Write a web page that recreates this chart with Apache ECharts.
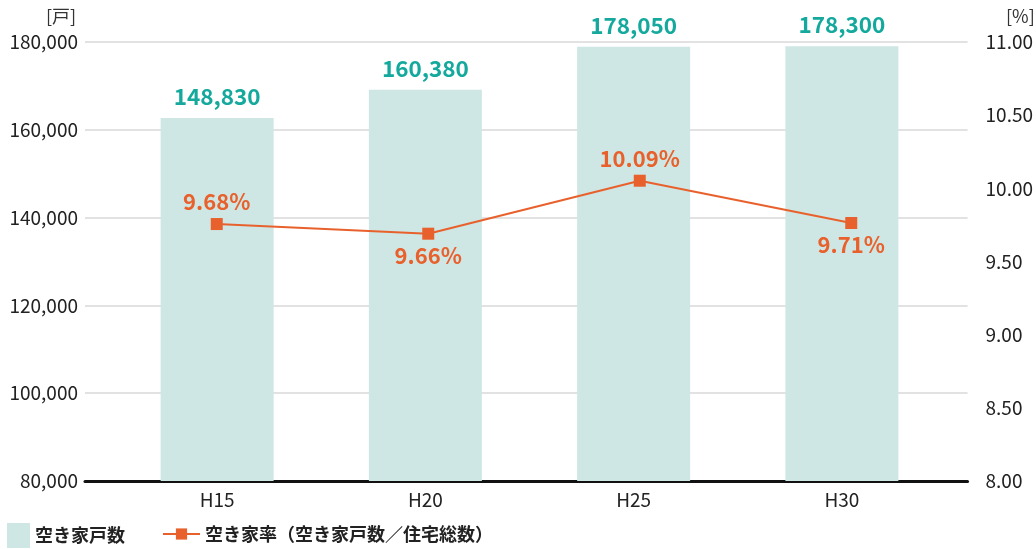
<!DOCTYPE html>
<html>
<head>
<meta charset="utf-8">
<title>空き家戸数と空き家率</title>
<script src="https://cdn.jsdelivr.net/npm/echarts@6/dist/echarts.min.js"></script>
<style>
html, body { margin: 0; padding: 0; background: #fff; }
#main { width: 1036px; height: 549px; }
</style>
</head>
<body>
<div id="main"></div>
<script>
// data
var years = ['H15', 'H20', 'H25', 'H30'];
var houses = [148830, 160380, 178050, 178300];
// the orange points as drawn, and the text printed next to them
var ratePlot = [9.756, 9.69, 10.052, 9.763];
var rateLabels = ['9.68%', '9.66%', '10.09%', '9.71%'];
var rateLabelPos = ['top', 'bottom', 'top', 'bottom'];
var leftTicks = [80000, 100000, 120000, 140000, 160000, 180000];
var rightTicks = [8, 8.5, 9, 9.5, 10, 10.5, 11];

var font = '"Noto Sans CJK JP", "Noto Sans", sans-serif';
var teal = '#15a99e';
var orange = '#e8612c';

var chart = echarts.init(document.getElementById('main'));
chart.setOption({
    animation: false,
    textStyle: { fontFamily: font },
    grid: [
        { left: 85, right: 66, top: 42, bottom: 68 },   // frame: axes + gridlines
        { left: 113, right: 90, top: 42, bottom: 68 },  // bars
        { left: 111, right: 79, top: 42, bottom: 68 }   // line
    ],
    legend: [{
        data: ['空き家戸数'],
        left: 7, top: 523, padding: 0,
        icon: 'rect',
        itemWidth: 23, itemHeight: 25,
        textStyle: { fontSize: 18, fontWeight: 'bold', color: '#222', fontFamily: font }
    }, {
        data: ['空き家率（空き家戸数／住宅総数）'],
        left: 162, top: 525, padding: 0,
        itemWidth: 37, itemHeight: 14,
        textStyle: { fontSize: 18, fontWeight: 'bold', color: '#222', fontFamily: font }
    }],
    graphic: [
        { type: 'text', left: 46, top: 7, style: { text: '[戸]', fontSize: 18, fill: '#333', fontFamily: font } },
        { type: 'text', left: 1006, top: 7, style: { text: '[%]', fontSize: 18, fill: '#333', fontFamily: font } }
    ],
    xAxis: [{
        gridIndex: 0, type: 'category', data: years,
        axisLine: { lineStyle: { color: '#111', width: 3 } },
        axisTick: { show: false },
        axisLabel: { show: false }
    }, {
        gridIndex: 1, type: 'category', data: years,
        axisLine: { show: false },
        axisTick: { show: false },
        axisLabel: { margin: 9, fontSize: 19, color: '#222', fontFamily: font }
    }, {
        gridIndex: 2, type: 'category', data: years, show: false
    }],
    yAxis: [{
        gridIndex: 0, type: 'value',
        min: leftTicks[0], max: leftTicks[leftTicks.length - 1], interval: 20000,
        axisLine: { show: false }, axisTick: { show: false },
        axisLabel: {
            margin: 7, fontSize: 19, color: '#222', fontFamily: font,
            formatter: function (v) { return v.toLocaleString('en-US'); }
        },
        splitLine: { lineStyle: { color: '#d9d9d9', width: 1.5 } }
    }, {
        gridIndex: 0, type: 'value', position: 'right',
        min: rightTicks[0], max: rightTicks[rightTicks.length - 1], interval: 0.5,
        axisLine: { show: false }, axisTick: { show: false },
        axisLabel: {
            margin: 18, fontSize: 19, color: '#222', fontFamily: font,
            formatter: function (v) { return v.toFixed(2); }
        },
        splitLine: { show: false }
    }, {
        gridIndex: 1, type: 'value', min: 0, max: 180000, show: false
    }, {
        gridIndex: 2, type: 'value', min: rightTicks[0], max: rightTicks[rightTicks.length - 1], show: false
    }],
    series: [{
        name: '空き家戸数',
        type: 'bar',
        xAxisIndex: 1, yAxisIndex: 2,
        barWidth: 113,
        itemStyle: { color: '#cfe7e4' },
        label: {
            show: true, position: 'top', distance: 10,
            color: teal, fontSize: 22.5, fontWeight: 'bold', fontFamily: font,
            formatter: function (p) { return p.value.toLocaleString('en-US'); }
        },
        data: houses
    }, {
        name: '空き家率（空き家戸数／住宅総数）',
        type: 'line',
        xAxisIndex: 2, yAxisIndex: 3,
        symbol: 'rect', symbolSize: 12,
        itemStyle: { color: orange },
        lineStyle: { color: orange, width: 2 },
        label: {
            show: true, distance: 5,
            color: orange, fontSize: 22, fontWeight: 'bold', fontFamily: font,
            formatter: function (p) { return rateLabels[p.dataIndex]; }
        },
        data: ratePlot.map(function (v, i) {
            return { value: v, label: { position: rateLabelPos[i] } };
        })
    }]
});
</script>
</body>
</html>
